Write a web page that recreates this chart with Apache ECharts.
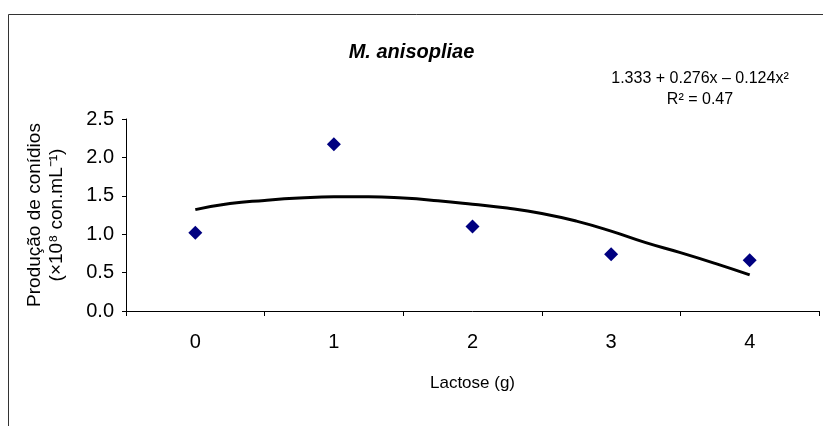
<!DOCTYPE html>
<html>
<head>
<meta charset="utf-8">
<script src="https://cdn.jsdelivr.net/npm/echarts@6/dist/echarts.min.js"></script>
<style>
  html, body { margin: 0; padding: 0; background: #fff; }
  #main { width: 823px; height: 426px; }
</style>
</head>
<body>
<div id="main"></div>
<script>
const categories = ['0', '1', '2', '3', '4'];
const observed = [1.02, 2.17, 1.10, 0.74, 0.66];
// fitted curve: [x, y]
const curveX = [0, 0.25, 0.5, 0.75, 1, 1.25, 1.5, 1.75, 2, 2.25, 2.5, 2.75, 3, 3.25, 3.5, 3.75, 4];
const curveY = [1.32, 1.40, 1.44, 1.47, 1.487, 1.487, 1.47, 1.435, 1.39, 1.34, 1.27, 1.17, 1.04, 0.89, 0.76, 0.62, 0.47];
const yTicks = [0, 0.5, 1, 1.5, 2, 2.5];

const chartDom = document.getElementById('main');
const myChart = echarts.init(chartDom);

const font = 'Liberation Sans, Arial, sans-serif';

let option = {
  animation: false,
  title: {
    text: 'M. anisopliae',
    left: 'center',
    top: 37,
    textStyle: {
      fontFamily: font,
      fontSize: 20,
      fontWeight: 'bold',
      fontStyle: 'italic',
      color: '#000'
    }
  },
  graphic: [
    {
      type: 'rect',
      shape: { x: 8.5, y: 14.5, width: 830, height: 430 },
      style: { fill: 'none', stroke: '#333', lineWidth: 1 },
      silent: true
    },
    {
      type: 'text',
      x: 700,
      y: 89.5,
      style: {
        text: '1.333 + 0.276x \u2013 0.124x\u00B2\nR\u00B2 = 0.47',
        font: '16px Liberation Sans, Arial, sans-serif',
        fill: '#000',
        align: 'center',
        verticalAlign: 'middle',
        lineHeight: 21
      }
    }
  ],
  grid: {
    left: 126,
    right: 4,
    top: 119,
    bottom: 115
  },
  xAxis: [
    {
      type: 'category',
      data: categories,
      boundaryGap: true,
      name: 'Lactose (g)',
      nameLocation: 'middle',
      nameGap: 64,
      nameTextStyle: { fontFamily: font, fontSize: 17, color: '#000' },
      axisLine: { lineStyle: { color: '#000', width: 1 } },
      axisTick: { show: true, length: 5, lineStyle: { color: '#000' } },
      axisLabel: { fontFamily: font, fontSize: 20, color: '#000', margin: 21 },
      splitLine: { show: false }
    },
    {
      type: 'value',
      min: -0.5,
      max: 4.5,
      show: false
    }
  ],
  yAxis: {
    type: 'value',
    min: 0,
    max: 2.5,
    interval: 0.5,
    name: 'Produção de conídios\n(×10\u2078 con.mL\u207B\u00B9)',
    nameLocation: 'middle',
    nameGap: 58,
    nameRotate: 90,
    nameTextStyle: { fontFamily: font, fontSize: 19, color: '#000', lineHeight: 22 },
    axisLine: { show: true, onZero: false, lineStyle: { color: '#000', width: 1 } },
    axisTick: { show: true, length: 4, lineStyle: { color: '#000' } },
    axisLabel: {
      fontFamily: font,
      fontSize: 20,
      color: '#000',
      margin: 12,
      formatter: function (v) {
        return yTicks.indexOf(v) >= 0 ? v.toFixed(1) : '';
      }
    },
    splitLine: { show: false }
  },
  series: [
    {
      name: 'Curve',
      type: 'line',
      xAxisIndex: 1,
      smooth: true,
      showSymbol: false,
      data: curveX.map((x, i) => [x, curveY[i]]),
      lineStyle: { color: '#000', width: 3 },
      z: 2
    },
    {
      name: 'Observed',
      type: 'scatter',
      xAxisIndex: 0,
      data: observed,
      symbol: 'diamond',
      symbolSize: 14,
      itemStyle: { color: '#000080', opacity: 1 },
      z: 3
    }
  ]
};

myChart.setOption(option);
</script>
</body>
</html>
